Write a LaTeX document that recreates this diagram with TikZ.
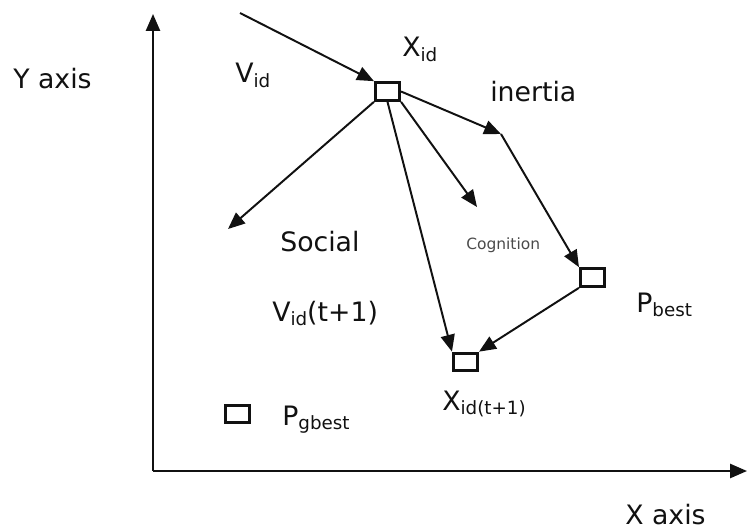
\documentclass[tikz,border=0pt]{standalone}
\usepackage{fontspec}
\setmainfont{DejaVu Sans}
\usepackage{xcolor}
\usetikzlibrary{arrows.meta, positioning, calc}
\definecolor{ink}{HTML}{111111}
\definecolor{soft}{HTML}{4a4a4a}
\newcommand{\lowtxt}[1]{\raisebox{-0.28ex}{\fontsize{13}{14}\selectfont #1}}
\tikzset{
  cell/.style = {rectangle, draw=ink, line width=2.2pt, minimum width=0.6cm,
    minimum height=0.44cm, inner sep=0pt},
  lbl/.style = {inner sep=0pt, anchor=base west, text=ink,
    font=\fontsize{19}{22}\selectfont},
  smalllbl/.style = {inner sep=0pt, anchor=base west, text=soft,
    font=\fontsize{11}{13}\selectfont},
  vec/.style = {-{Triangle[length=12pt, width=10pt]}, line width=1.4pt, draw=ink},
  axis/.style = {-{Triangle[length=12pt, width=10pt]}, line width=1.5pt, draw=ink},
}

\begin{document}
\begin{tikzpicture}[x=0.025cm, y=-0.025cm]
\useasboundingbox (0,0) rectangle (747,531);

% particles
\node[cell] (xid) at (387.5,91.5) {};
\node[cell] (pbest) at (592.5,277.5) {};
\node[cell] (xnext) at (465.5,362) {};
\node[cell] (pgbest) at (237.5,414) {};

% free ends
\coordinate (orig) at (153,471);
\coordinate (ytop) at (153,14);
\coordinate (xend) at (747,471);
\coordinate (vstart) at (240,13);
\coordinate (inr) at (501,134);
\coordinate (soc) at (228,229);
\coordinate (cog) at (477,207);

% labels
\node[lbl] (ylab) at (13,89) {Y axis};
\node[lbl] (xlab) at (625,524) {X axis};
\node[lbl] (vid) at (235,83) {V\lowtxt{id}};
\node[lbl] (xidlab) at (402,57) {X\lowtxt{id}};
\node[lbl] (inertia) at (490,102) {inertia};
\node[lbl] (social) at (280,251) {Social};
\node[smalllbl] (cognition) at (466,249) {Cognition};
\node[lbl] (vnext) at (272,321) {V\lowtxt{id}(t+1)};
\node[lbl] (pbestlab) at (636,312) {P\lowtxt{best}};
\node[lbl] (xnextlab) at (442,410) {X\lowtxt{id(t+1)}};
\node[lbl] (pgbestlab) at (282,425) {P\lowtxt{gbest}};

% axes
\draw[axis] (orig) -- (ytop);
\draw[axis] (orig) -- (xend);

% velocity parts
\draw[vec] (vstart) -- (xid.north west);
\draw[vec] (xid.east) -- (inr);
\draw[vec] (inr) -- (pbest.north west);
\draw[vec] (pbest.south west) -- (xnext.north east);
\draw[vec] (xid.south) -- (xnext.north west);
\draw[vec] (xid.south east) -- (cog);
\draw[vec] (xid.south west) -- (soc);

\end{tikzpicture}
\end{document}
